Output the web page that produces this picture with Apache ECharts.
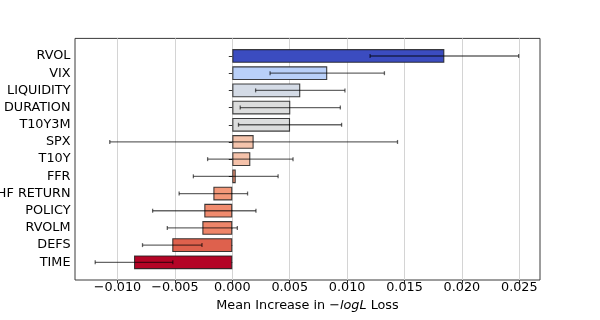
<!DOCTYPE html>
<html>
<head>
<meta charset="utf-8">
<script src="https://cdn.jsdelivr.net/npm/echarts@6/dist/echarts.min.js"></script>
<style>
  html, body { margin: 0; padding: 0; background: #fff; }
  #chart { width: 600px; height: 320px; }
</style>
</head>
<body>
<div id="chart"></div>
<script>
// feature importance, top to bottom
const features = ['RVOL', 'VIX', 'LIQUIDITY', 'DURATION', 'T10Y3M', 'SPX', 'T10Y', 'FFR',
  'HF RETURN', 'POLICY', 'RVOLM', 'DEFS', 'TIME'];
const meanIncrease = [0.01847, 0.00827, 0.00592, 0.00505, 0.00503, 0.00186, 0.00157, 0.0003,
  -0.00165, -0.00244, -0.00261, -0.00523, -0.00856];
const stdError = [0.00647, 0.00498, 0.00389, 0.00436, 0.00449, 0.01253, 0.00372, 0.00369,
  0.00298, 0.0045, 0.00305, 0.00259, 0.00338];
const barColors = ['#3b4cc0', '#b9d0f9', '#d4dbe6', '#dcdddd', '#dcdddd', '#f5c4ac', '#f5c2aa',
  '#f4997b', '#f39879', '#f08b6e', '#ee8569', '#de614d', '#b40426'];
const tickValues = [-0.01, -0.005, 0, 0.005, 0.01, 0.015, 0.02, 0.025];
const tickLabels = ['\u22120.010', '\u22120.005', '0.000', '0.005', '0.010', '0.015', '0.020', '0.025'];

const xMin = -0.0137, xMax = 0.0268;
const font = 'DejaVu Sans';

const chart = echarts.init(document.getElementById('chart'));

const option = {
  animation: false,
  textStyle: { fontFamily: font },
  grid: [
    // frame
    { left: 75, right: 60, top: 38.4, bottom: 40, show: true, borderColor: '#3a3a3a', borderWidth: 1,
      containLabel: false, outerBoundsMode: 'none' },
    // bars
    { left: 75, right: 60, top: 47.4, bottom: 49.1, containLabel: false, outerBoundsMode: 'none' }
  ],
  xAxis: [{
    gridIndex: 0,
    type: 'value',
    min: xMin,
    max: xMax,
    axisLine: { show: false },
    axisTick: { show: true, length: 3.5, customValues: tickValues, lineStyle: { color: '#333' } },
    axisLabel: {
      customValues: tickValues,
      margin: 1,
      fontSize: 12.8,
      color: '#000',
      fontFamily: font,
      formatter: function (v) {
        const i = tickValues.findIndex(t => Math.abs(t - v) < 1e-9);
        return i >= 0 ? tickLabels[i] : '';
      }
    },
    splitLine: { show: true, lineStyle: { color: '#d4d4d4', width: 1 } },
    name: '{a|Mean Increase in \u2212}{i|logL}{a| Loss}',
    nameLocation: 'middle',
    nameGap: 13,
    nameTextStyle: {
      rich: {
        a: { fontSize: 12.8, color: '#000', fontFamily: font },
        i: { fontSize: 12.8, color: '#000', fontFamily: font, fontStyle: 'italic' }
      }
    }
  }, {
    gridIndex: 1,
    type: 'value',
    min: xMin,
    max: xMax,
    show: false
  }],
  yAxis: [{
    gridIndex: 0,
    type: 'value',
    min: 0,
    max: 1,
    show: false
  }, {
    gridIndex: 1,
    type: 'category',
    data: features,
    inverse: true,
    axisLine: { show: false },
    axisTick: { show: true, length: 3.5, alignWithLabel: true, lineStyle: { color: '#333' } },
    axisLabel: { margin: 4.5, fontSize: 12.8, color: '#000', fontFamily: font },
    splitLine: { show: false }
  }],
  series: [{
    type: 'bar',
    xAxisIndex: 1,
    yAxisIndex: 1,
    barWidth: '80%',
    data: meanIncrease.map((v, i) => ({
      value: v,
      itemStyle: { color: barColors[i], borderColor: 'rgba(30,30,30,0.85)', borderWidth: 1.1 }
    })),
    z: 3
  }, {
    type: 'custom',
    xAxisIndex: 1,
    yAxisIndex: 1,
    encode: { x: 0, y: 1 },
    data: meanIncrease.map((v, i) => [v, i, stdError[i]]),
    renderItem: function (params, api) {
      const c = api.value(0), idx = api.value(1), e = api.value(2);
      const p1 = api.coord([c - e, idx]);
      const p2 = api.coord([c + e, idx]);
      const style = { stroke: 'rgba(0,0,0,0.6)', lineWidth: 1.3 };
      const cap = 2;
      return {
        type: 'group',
        children: [
          { type: 'line', shape: { x1: p1[0], y1: p1[1], x2: p2[0], y2: p2[1] }, style: style },
          { type: 'line', shape: { x1: p1[0], y1: p1[1] - cap, x2: p1[0], y2: p1[1] + cap }, style: style },
          { type: 'line', shape: { x1: p2[0], y1: p2[1] - cap, x2: p2[0], y2: p2[1] + cap }, style: style }
        ]
      };
    },
    z: 5
  }]
};

chart.setOption(option);
</script>
</body>
</html>
